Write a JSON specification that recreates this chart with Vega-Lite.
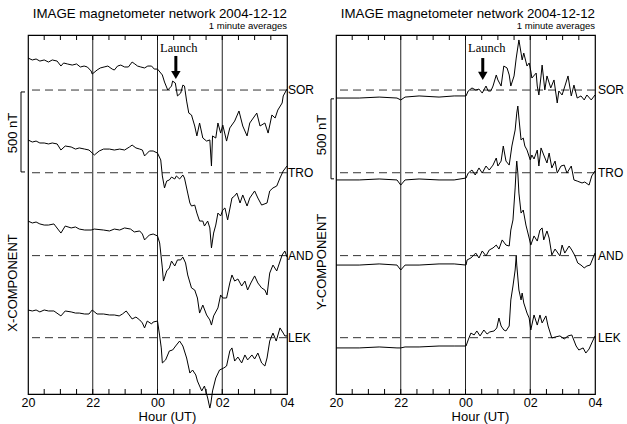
{
"$schema": "https://vega.github.io/schema/vega-lite/v6.json",
"autosize": {"type": "pad"},
"padding": {"left": 6, "top": 6, "right": 0, "bottom": 0},
"background": "white",
"spacing": 49,
"bounds": "flush",
"config": {"view": {"stroke": "black", "strokeWidth": 1.2}, "font": "Liberation Sans"},
"datasets": {
"base": [{"s":"SOR","v":1900},{"s":"TRO","v":1383},{"s":"AND","v":865},{"s":"LEK","v":352}],
"vl": [{"t":120},{"t":240},{"t":360}],
"tk": [{"t":30},{"t":60},{"t":90},{"t":120},{"t":150},{"t":180},{"t":210},{"t":240},{"t":270},{"t":300},{"t":330},{"t":360},{"t":390},{"t":420},{"t":450}],
"traces": [
{"p":"X","s":"SOR","t":0,"v":2100},{"p":"X","s":"SOR","t":8,"v":2088},{"p":"X","s":"SOR","t":15,"v":2094},{"p":"X","s":"SOR","t":22,"v":2081},{"p":"X","s":"SOR","t":30,"v":2088},{"p":"X","s":"SOR","t":38,"v":2075},{"p":"X","s":"SOR","t":45,"v":2088},{"p":"X","s":"SOR","t":54,"v":2081},{"p":"X","s":"SOR","t":61,"v":2050},{"p":"X","s":"SOR","t":66,"v":2069},{"p":"X","s":"SOR","t":73,"v":2063},{"p":"X","s":"SOR","t":82,"v":2056},{"p":"X","s":"SOR","t":90,"v":2063},{"p":"X","s":"SOR","t":97,"v":2044},{"p":"X","s":"SOR","t":104,"v":2050},{"p":"X","s":"SOR","t":110,"v":2044},{"p":"X","s":"SOR","t":117,"v":2019},{"p":"X","s":"SOR","t":119,"v":2000},{"p":"X","s":"SOR","t":128,"v":2025},{"p":"X","s":"SOR","t":134,"v":2038},{"p":"X","s":"SOR","t":141,"v":2044},{"p":"X","s":"SOR","t":148,"v":2050},{"p":"X","s":"SOR","t":156,"v":2031},{"p":"X","s":"SOR","t":160,"v":2025},{"p":"X","s":"SOR","t":166,"v":2050},{"p":"X","s":"SOR","t":172,"v":2056},{"p":"X","s":"SOR","t":179,"v":2044},{"p":"X","s":"SOR","t":186,"v":2044},{"p":"X","s":"SOR","t":193,"v":2075},{"p":"X","s":"SOR","t":198,"v":2063},{"p":"X","s":"SOR","t":203,"v":2050},{"p":"X","s":"SOR","t":209,"v":2044},{"p":"X","s":"SOR","t":216,"v":2038},{"p":"X","s":"SOR","t":222,"v":2050},{"p":"X","s":"SOR","t":229,"v":2050},{"p":"X","s":"SOR","t":234,"v":2031},{"p":"X","s":"SOR","t":240,"v":2031},{"p":"X","s":"SOR","t":249,"v":1994},{"p":"X","s":"SOR","t":253,"v":1950},{"p":"X","s":"SOR","t":259,"v":1900},{"p":"X","s":"SOR","t":266,"v":1925},{"p":"X","s":"SOR","t":268,"v":1956},{"p":"X","s":"SOR","t":273,"v":1944},{"p":"X","s":"SOR","t":277,"v":1863},{"p":"X","s":"SOR","t":283,"v":1881},{"p":"X","s":"SOR","t":287,"v":1931},{"p":"X","s":"SOR","t":290,"v":1925},{"p":"X","s":"SOR","t":294,"v":1831},{"p":"X","s":"SOR","t":298,"v":1756},{"p":"X","s":"SOR","t":303,"v":1744},{"p":"X","s":"SOR","t":309,"v":1675},{"p":"X","s":"SOR","t":313,"v":1613},{"p":"X","s":"SOR","t":318,"v":1694},{"p":"X","s":"SOR","t":324,"v":1600},{"p":"X","s":"SOR","t":331,"v":1581},{"p":"X","s":"SOR","t":337,"v":1588},{"p":"X","s":"SOR","t":340,"v":1425},{"p":"X","s":"SOR","t":342,"v":1613},{"p":"X","s":"SOR","t":348,"v":1600},{"p":"X","s":"SOR","t":352,"v":1694},{"p":"X","s":"SOR","t":357,"v":1631},{"p":"X","s":"SOR","t":361,"v":1681},{"p":"X","s":"SOR","t":368,"v":1581},{"p":"X","s":"SOR","t":374,"v":1663},{"p":"X","s":"SOR","t":383,"v":1706},{"p":"X","s":"SOR","t":391,"v":1769},{"p":"X","s":"SOR","t":398,"v":1675},{"p":"X","s":"SOR","t":406,"v":1613},{"p":"X","s":"SOR","t":411,"v":1694},{"p":"X","s":"SOR","t":424,"v":1756},{"p":"X","s":"SOR","t":430,"v":1675},{"p":"X","s":"SOR","t":439,"v":1694},{"p":"X","s":"SOR","t":445,"v":1631},{"p":"X","s":"SOR","t":452,"v":1744},{"p":"X","s":"SOR","t":458,"v":1725},{"p":"X","s":"SOR","t":463,"v":1775},{"p":"X","s":"SOR","t":471,"v":1819},{"p":"X","s":"SOR","t":473,"v":1863},{"p":"X","s":"SOR","t":480,"v":1906},
{"p":"X","s":"TRO","t":0,"v":1588},{"p":"X","s":"TRO","t":8,"v":1575},{"p":"X","s":"TRO","t":15,"v":1581},{"p":"X","s":"TRO","t":22,"v":1569},{"p":"X","s":"TRO","t":30,"v":1569},{"p":"X","s":"TRO","t":38,"v":1563},{"p":"X","s":"TRO","t":45,"v":1569},{"p":"X","s":"TRO","t":54,"v":1563},{"p":"X","s":"TRO","t":61,"v":1525},{"p":"X","s":"TRO","t":69,"v":1550},{"p":"X","s":"TRO","t":80,"v":1544},{"p":"X","s":"TRO","t":88,"v":1531},{"p":"X","s":"TRO","t":95,"v":1538},{"p":"X","s":"TRO","t":105,"v":1531},{"p":"X","s":"TRO","t":113,"v":1525},{"p":"X","s":"TRO","t":123,"v":1494},{"p":"X","s":"TRO","t":132,"v":1519},{"p":"X","s":"TRO","t":140,"v":1531},{"p":"X","s":"TRO","t":151,"v":1531},{"p":"X","s":"TRO","t":160,"v":1525},{"p":"X","s":"TRO","t":170,"v":1531},{"p":"X","s":"TRO","t":179,"v":1525},{"p":"X","s":"TRO","t":188,"v":1544},{"p":"X","s":"TRO","t":193,"v":1556},{"p":"X","s":"TRO","t":200,"v":1538},{"p":"X","s":"TRO","t":207,"v":1531},{"p":"X","s":"TRO","t":212,"v":1525},{"p":"X","s":"TRO","t":216,"v":1488},{"p":"X","s":"TRO","t":225,"v":1519},{"p":"X","s":"TRO","t":232,"v":1519},{"p":"X","s":"TRO","t":240,"v":1506},{"p":"X","s":"TRO","t":246,"v":1463},{"p":"X","s":"TRO","t":249,"v":1363},{"p":"X","s":"TRO","t":253,"v":1288},{"p":"X","s":"TRO","t":257,"v":1331},{"p":"X","s":"TRO","t":262,"v":1338},{"p":"X","s":"TRO","t":266,"v":1356},{"p":"X","s":"TRO","t":272,"v":1344},{"p":"X","s":"TRO","t":275,"v":1363},{"p":"X","s":"TRO","t":281,"v":1344},{"p":"X","s":"TRO","t":287,"v":1369},{"p":"X","s":"TRO","t":290,"v":1350},{"p":"X","s":"TRO","t":296,"v":1256},{"p":"X","s":"TRO","t":300,"v":1194},{"p":"X","s":"TRO","t":303,"v":1175},{"p":"X","s":"TRO","t":309,"v":1181},{"p":"X","s":"TRO","t":313,"v":1131},{"p":"X","s":"TRO","t":318,"v":1081},{"p":"X","s":"TRO","t":324,"v":1081},{"p":"X","s":"TRO","t":327,"v":1050},{"p":"X","s":"TRO","t":333,"v":1081},{"p":"X","s":"TRO","t":337,"v":1038},{"p":"X","s":"TRO","t":340,"v":913},{"p":"X","s":"TRO","t":344,"v":1006},{"p":"X","s":"TRO","t":348,"v":1056},{"p":"X","s":"TRO","t":352,"v":1131},{"p":"X","s":"TRO","t":357,"v":1113},{"p":"X","s":"TRO","t":361,"v":1150},{"p":"X","s":"TRO","t":365,"v":1163},{"p":"X","s":"TRO","t":370,"v":1088},{"p":"X","s":"TRO","t":378,"v":1225},{"p":"X","s":"TRO","t":383,"v":1238},{"p":"X","s":"TRO","t":387,"v":1256},{"p":"X","s":"TRO","t":393,"v":1194},{"p":"X","s":"TRO","t":398,"v":1244},{"p":"X","s":"TRO","t":406,"v":1175},{"p":"X","s":"TRO","t":411,"v":1225},{"p":"X","s":"TRO","t":420,"v":1269},{"p":"X","s":"TRO","t":426,"v":1225},{"p":"X","s":"TRO","t":433,"v":1181},{"p":"X","s":"TRO","t":443,"v":1194},{"p":"X","s":"TRO","t":448,"v":1269},{"p":"X","s":"TRO","t":454,"v":1288},{"p":"X","s":"TRO","t":461,"v":1300},{"p":"X","s":"TRO","t":467,"v":1350},{"p":"X","s":"TRO","t":473,"v":1394},{"p":"X","s":"TRO","t":480,"v":1425},
{"p":"X","s":"AND","t":0,"v":1081},{"p":"X","s":"AND","t":8,"v":1069},{"p":"X","s":"AND","t":15,"v":1075},{"p":"X","s":"AND","t":22,"v":1063},{"p":"X","s":"AND","t":30,"v":1056},{"p":"X","s":"AND","t":38,"v":1056},{"p":"X","s":"AND","t":48,"v":1063},{"p":"X","s":"AND","t":61,"v":1006},{"p":"X","s":"AND","t":69,"v":1050},{"p":"X","s":"AND","t":80,"v":1038},{"p":"X","s":"AND","t":88,"v":1044},{"p":"X","s":"AND","t":95,"v":1031},{"p":"X","s":"AND","t":105,"v":1025},{"p":"X","s":"AND","t":117,"v":1025},{"p":"X","s":"AND","t":123,"v":1031},{"p":"X","s":"AND","t":140,"v":1025},{"p":"X","s":"AND","t":151,"v":1019},{"p":"X","s":"AND","t":160,"v":1031},{"p":"X","s":"AND","t":170,"v":1025},{"p":"X","s":"AND","t":179,"v":1038},{"p":"X","s":"AND","t":190,"v":1031},{"p":"X","s":"AND","t":197,"v":1013},{"p":"X","s":"AND","t":207,"v":1019},{"p":"X","s":"AND","t":212,"v":1000},{"p":"X","s":"AND","t":216,"v":963},{"p":"X","s":"AND","t":225,"v":994},{"p":"X","s":"AND","t":232,"v":1000},{"p":"X","s":"AND","t":240,"v":988},{"p":"X","s":"AND","t":244,"v":944},{"p":"X","s":"AND","t":249,"v":788},{"p":"X","s":"AND","t":251,"v":706},{"p":"X","s":"AND","t":257,"v":769},{"p":"X","s":"AND","t":262,"v":788},{"p":"X","s":"AND","t":266,"v":831},{"p":"X","s":"AND","t":272,"v":800},{"p":"X","s":"AND","t":277,"v":838},{"p":"X","s":"AND","t":283,"v":838},{"p":"X","s":"AND","t":287,"v":856},{"p":"X","s":"AND","t":292,"v":819},{"p":"X","s":"AND","t":296,"v":744},{"p":"X","s":"AND","t":303,"v":663},{"p":"X","s":"AND","t":309,"v":650},{"p":"X","s":"AND","t":314,"v":600},{"p":"X","s":"AND","t":318,"v":506},{"p":"X","s":"AND","t":324,"v":556},{"p":"X","s":"AND","t":331,"v":494},{"p":"X","s":"AND","t":337,"v":463},{"p":"X","s":"AND","t":340,"v":431},{"p":"X","s":"AND","t":344,"v":488},{"p":"X","s":"AND","t":352,"v":538},{"p":"X","s":"AND","t":357,"v":619},{"p":"X","s":"AND","t":361,"v":600},{"p":"X","s":"AND","t":368,"v":600},{"p":"X","s":"AND","t":374,"v":694},{"p":"X","s":"AND","t":378,"v":744},{"p":"X","s":"AND","t":383,"v":706},{"p":"X","s":"AND","t":389,"v":719},{"p":"X","s":"AND","t":396,"v":675},{"p":"X","s":"AND","t":402,"v":706},{"p":"X","s":"AND","t":407,"v":650},{"p":"X","s":"AND","t":413,"v":694},{"p":"X","s":"AND","t":420,"v":738},{"p":"X","s":"AND","t":426,"v":694},{"p":"X","s":"AND","t":433,"v":663},{"p":"X","s":"AND","t":439,"v":650},{"p":"X","s":"AND","t":443,"v":619},{"p":"X","s":"AND","t":448,"v":756},{"p":"X","s":"AND","t":454,"v":806},{"p":"X","s":"AND","t":461,"v":769},{"p":"X","s":"AND","t":471,"v":869},{"p":"X","s":"AND","t":476,"v":894},{"p":"X","s":"AND","t":480,"v":856},
{"p":"X","s":"LEK","t":0,"v":525},{"p":"X","s":"LEK","t":8,"v":519},{"p":"X","s":"LEK","t":15,"v":525},{"p":"X","s":"LEK","t":22,"v":513},{"p":"X","s":"LEK","t":30,"v":525},{"p":"X","s":"LEK","t":38,"v":519},{"p":"X","s":"LEK","t":48,"v":519},{"p":"X","s":"LEK","t":61,"v":488},{"p":"X","s":"LEK","t":69,"v":519},{"p":"X","s":"LEK","t":80,"v":513},{"p":"X","s":"LEK","t":88,"v":506},{"p":"X","s":"LEK","t":95,"v":506},{"p":"X","s":"LEK","t":105,"v":500},{"p":"X","s":"LEK","t":113,"v":500},{"p":"X","s":"LEK","t":119,"v":525},{"p":"X","s":"LEK","t":128,"v":500},{"p":"X","s":"LEK","t":140,"v":500},{"p":"X","s":"LEK","t":151,"v":494},{"p":"X","s":"LEK","t":160,"v":494},{"p":"X","s":"LEK","t":169,"v":488},{"p":"X","s":"LEK","t":175,"v":500},{"p":"X","s":"LEK","t":182,"v":519},{"p":"X","s":"LEK","t":193,"v":469},{"p":"X","s":"LEK","t":200,"v":481},{"p":"X","s":"LEK","t":207,"v":463},{"p":"X","s":"LEK","t":212,"v":444},{"p":"X","s":"LEK","t":216,"v":413},{"p":"X","s":"LEK","t":221,"v":456},{"p":"X","s":"LEK","t":229,"v":438},{"p":"X","s":"LEK","t":232,"v":450},{"p":"X","s":"LEK","t":240,"v":456},{"p":"X","s":"LEK","t":244,"v":363},{"p":"X","s":"LEK","t":247,"v":288},{"p":"X","s":"LEK","t":249,"v":194},{"p":"X","s":"LEK","t":255,"v":213},{"p":"X","s":"LEK","t":262,"v":269},{"p":"X","s":"LEK","t":268,"v":275},{"p":"X","s":"LEK","t":275,"v":306},{"p":"X","s":"LEK","t":281,"v":331},{"p":"X","s":"LEK","t":287,"v":300},{"p":"X","s":"LEK","t":294,"v":225},{"p":"X","s":"LEK","t":300,"v":131},{"p":"X","s":"LEK","t":305,"v":150},{"p":"X","s":"LEK","t":311,"v":119},{"p":"X","s":"LEK","t":314,"v":81},{"p":"X","s":"LEK","t":322,"v":19},{"p":"X","s":"LEK","t":327,"v":50},{"p":"X","s":"LEK","t":333,"v":-25},{"p":"X","s":"LEK","t":337,"v":-88},{"p":"X","s":"LEK","t":339,"v":-56},{"p":"X","s":"LEK","t":342,"v":19},{"p":"X","s":"LEK","t":348,"v":100},{"p":"X","s":"LEK","t":355,"v":150},{"p":"X","s":"LEK","t":363,"v":163},{"p":"X","s":"LEK","t":368,"v":175},{"p":"X","s":"LEK","t":374,"v":269},{"p":"X","s":"LEK","t":378,"v":288},{"p":"X","s":"LEK","t":383,"v":206},{"p":"X","s":"LEK","t":389,"v":231},{"p":"X","s":"LEK","t":396,"v":194},{"p":"X","s":"LEK","t":402,"v":244},{"p":"X","s":"LEK","t":407,"v":213},{"p":"X","s":"LEK","t":415,"v":244},{"p":"X","s":"LEK","t":420,"v":219},{"p":"X","s":"LEK","t":426,"v":256},{"p":"X","s":"LEK","t":433,"v":194},{"p":"X","s":"LEK","t":439,"v":175},{"p":"X","s":"LEK","t":443,"v":225},{"p":"X","s":"LEK","t":448,"v":331},{"p":"X","s":"LEK","t":454,"v":381},{"p":"X","s":"LEK","t":460,"v":331},{"p":"X","s":"LEK","t":467,"v":413},{"p":"X","s":"LEK","t":473,"v":381},{"p":"X","s":"LEK","t":476,"v":363},{"p":"X","s":"LEK","t":480,"v":363},
{"p":"Y","s":"SOR","t":0,"v":1850},{"p":"Y","s":"SOR","t":43,"v":1850},{"p":"Y","s":"SOR","t":80,"v":1856},{"p":"Y","s":"SOR","t":113,"v":1850},{"p":"Y","s":"SOR","t":120,"v":1838},{"p":"Y","s":"SOR","t":128,"v":1856},{"p":"Y","s":"SOR","t":154,"v":1863},{"p":"Y","s":"SOR","t":191,"v":1856},{"p":"Y","s":"SOR","t":219,"v":1863},{"p":"Y","s":"SOR","t":241,"v":1863},{"p":"Y","s":"SOR","t":245,"v":1894},{"p":"Y","s":"SOR","t":252,"v":1913},{"p":"Y","s":"SOR","t":259,"v":1900},{"p":"Y","s":"SOR","t":265,"v":1906},{"p":"Y","s":"SOR","t":271,"v":1881},{"p":"Y","s":"SOR","t":278,"v":1925},{"p":"Y","s":"SOR","t":282,"v":1894},{"p":"Y","s":"SOR","t":287,"v":1894},{"p":"Y","s":"SOR","t":291,"v":1925},{"p":"Y","s":"SOR","t":297,"v":1994},{"p":"Y","s":"SOR","t":300,"v":1963},{"p":"Y","s":"SOR","t":306,"v":1925},{"p":"Y","s":"SOR","t":311,"v":2050},{"p":"Y","s":"SOR","t":317,"v":2038},{"p":"Y","s":"SOR","t":321,"v":1994},{"p":"Y","s":"SOR","t":324,"v":1925},{"p":"Y","s":"SOR","t":330,"v":1988},{"p":"Y","s":"SOR","t":334,"v":2100},{"p":"Y","s":"SOR","t":339,"v":2213},{"p":"Y","s":"SOR","t":343,"v":2131},{"p":"Y","s":"SOR","t":345,"v":2088},{"p":"Y","s":"SOR","t":348,"v":2131},{"p":"Y","s":"SOR","t":354,"v":2050},{"p":"Y","s":"SOR","t":358,"v":2069},{"p":"Y","s":"SOR","t":361,"v":2019},{"p":"Y","s":"SOR","t":363,"v":1975},{"p":"Y","s":"SOR","t":371,"v":2006},{"p":"Y","s":"SOR","t":373,"v":1925},{"p":"Y","s":"SOR","t":376,"v":1869},{"p":"Y","s":"SOR","t":380,"v":1988},{"p":"Y","s":"SOR","t":382,"v":2056},{"p":"Y","s":"SOR","t":387,"v":1900},{"p":"Y","s":"SOR","t":391,"v":1988},{"p":"Y","s":"SOR","t":398,"v":1913},{"p":"Y","s":"SOR","t":404,"v":1963},{"p":"Y","s":"SOR","t":410,"v":1819},{"p":"Y","s":"SOR","t":413,"v":1894},{"p":"Y","s":"SOR","t":419,"v":1869},{"p":"Y","s":"SOR","t":426,"v":1944},{"p":"Y","s":"SOR","t":430,"v":1988},{"p":"Y","s":"SOR","t":436,"v":1863},{"p":"Y","s":"SOR","t":441,"v":1931},{"p":"Y","s":"SOR","t":447,"v":1850},{"p":"Y","s":"SOR","t":454,"v":1863},{"p":"Y","s":"SOR","t":460,"v":1838},{"p":"Y","s":"SOR","t":465,"v":1869},{"p":"Y","s":"SOR","t":473,"v":1838},{"p":"Y","s":"SOR","t":480,"v":1869},
{"p":"Y","s":"TRO","t":0,"v":1338},{"p":"Y","s":"TRO","t":43,"v":1338},{"p":"Y","s":"TRO","t":80,"v":1344},{"p":"Y","s":"TRO","t":113,"v":1338},{"p":"Y","s":"TRO","t":120,"v":1306},{"p":"Y","s":"TRO","t":128,"v":1338},{"p":"Y","s":"TRO","t":154,"v":1344},{"p":"Y","s":"TRO","t":191,"v":1338},{"p":"Y","s":"TRO","t":219,"v":1338},{"p":"Y","s":"TRO","t":241,"v":1350},{"p":"Y","s":"TRO","t":245,"v":1381},{"p":"Y","s":"TRO","t":252,"v":1400},{"p":"Y","s":"TRO","t":258,"v":1369},{"p":"Y","s":"TRO","t":265,"v":1413},{"p":"Y","s":"TRO","t":271,"v":1381},{"p":"Y","s":"TRO","t":278,"v":1425},{"p":"Y","s":"TRO","t":284,"v":1400},{"p":"Y","s":"TRO","t":291,"v":1431},{"p":"Y","s":"TRO","t":297,"v":1475},{"p":"Y","s":"TRO","t":300,"v":1425},{"p":"Y","s":"TRO","t":306,"v":1456},{"p":"Y","s":"TRO","t":310,"v":1550},{"p":"Y","s":"TRO","t":315,"v":1456},{"p":"Y","s":"TRO","t":321,"v":1431},{"p":"Y","s":"TRO","t":326,"v":1550},{"p":"Y","s":"TRO","t":332,"v":1650},{"p":"Y","s":"TRO","t":335,"v":1756},{"p":"Y","s":"TRO","t":337,"v":1800},{"p":"Y","s":"TRO","t":339,"v":1725},{"p":"Y","s":"TRO","t":343,"v":1588},{"p":"Y","s":"TRO","t":347,"v":1600},{"p":"Y","s":"TRO","t":350,"v":1550},{"p":"Y","s":"TRO","t":354,"v":1525},{"p":"Y","s":"TRO","t":360,"v":1463},{"p":"Y","s":"TRO","t":363,"v":1494},{"p":"Y","s":"TRO","t":367,"v":1469},{"p":"Y","s":"TRO","t":373,"v":1525},{"p":"Y","s":"TRO","t":376,"v":1425},{"p":"Y","s":"TRO","t":380,"v":1538},{"p":"Y","s":"TRO","t":385,"v":1494},{"p":"Y","s":"TRO","t":391,"v":1444},{"p":"Y","s":"TRO","t":395,"v":1506},{"p":"Y","s":"TRO","t":400,"v":1413},{"p":"Y","s":"TRO","t":406,"v":1456},{"p":"Y","s":"TRO","t":410,"v":1381},{"p":"Y","s":"TRO","t":417,"v":1425},{"p":"Y","s":"TRO","t":423,"v":1431},{"p":"Y","s":"TRO","t":428,"v":1381},{"p":"Y","s":"TRO","t":436,"v":1425},{"p":"Y","s":"TRO","t":441,"v":1338},{"p":"Y","s":"TRO","t":447,"v":1331},{"p":"Y","s":"TRO","t":456,"v":1319},{"p":"Y","s":"TRO","t":461,"v":1325},{"p":"Y","s":"TRO","t":469,"v":1306},{"p":"Y","s":"TRO","t":474,"v":1363},{"p":"Y","s":"TRO","t":480,"v":1394},
{"p":"Y","s":"AND","t":0,"v":806},{"p":"Y","s":"AND","t":43,"v":806},{"p":"Y","s":"AND","t":80,"v":813},{"p":"Y","s":"AND","t":113,"v":806},{"p":"Y","s":"AND","t":120,"v":775},{"p":"Y","s":"AND","t":128,"v":806},{"p":"Y","s":"AND","t":154,"v":806},{"p":"Y","s":"AND","t":191,"v":813},{"p":"Y","s":"AND","t":219,"v":813},{"p":"Y","s":"AND","t":241,"v":806},{"p":"Y","s":"AND","t":243,"v":838},{"p":"Y","s":"AND","t":250,"v":850},{"p":"Y","s":"AND","t":259,"v":881},{"p":"Y","s":"AND","t":265,"v":850},{"p":"Y","s":"AND","t":271,"v":894},{"p":"Y","s":"AND","t":278,"v":863},{"p":"Y","s":"AND","t":284,"v":900},{"p":"Y","s":"AND","t":291,"v":913},{"p":"Y","s":"AND","t":297,"v":931},{"p":"Y","s":"AND","t":302,"v":906},{"p":"Y","s":"AND","t":308,"v":963},{"p":"Y","s":"AND","t":315,"v":931},{"p":"Y","s":"AND","t":321,"v":925},{"p":"Y","s":"AND","t":324,"v":1025},{"p":"Y","s":"AND","t":328,"v":1088},{"p":"Y","s":"AND","t":332,"v":1288},{"p":"Y","s":"AND","t":334,"v":1413},{"p":"Y","s":"AND","t":335,"v":1456},{"p":"Y","s":"AND","t":337,"v":1381},{"p":"Y","s":"AND","t":339,"v":1256},{"p":"Y","s":"AND","t":343,"v":1131},{"p":"Y","s":"AND","t":347,"v":1150},{"p":"Y","s":"AND","t":352,"v":1056},{"p":"Y","s":"AND","t":358,"v":975},{"p":"Y","s":"AND","t":361,"v":931},{"p":"Y","s":"AND","t":367,"v":988},{"p":"Y","s":"AND","t":373,"v":956},{"p":"Y","s":"AND","t":378,"v":1025},{"p":"Y","s":"AND","t":382,"v":1038},{"p":"Y","s":"AND","t":385,"v":963},{"p":"Y","s":"AND","t":391,"v":1019},{"p":"Y","s":"AND","t":395,"v":975},{"p":"Y","s":"AND","t":400,"v":869},{"p":"Y","s":"AND","t":406,"v":906},{"p":"Y","s":"AND","t":415,"v":863},{"p":"Y","s":"AND","t":419,"v":931},{"p":"Y","s":"AND","t":424,"v":881},{"p":"Y","s":"AND","t":432,"v":925},{"p":"Y","s":"AND","t":437,"v":900},{"p":"Y","s":"AND","t":443,"v":863},{"p":"Y","s":"AND","t":448,"v":819},{"p":"Y","s":"AND","t":454,"v":806},{"p":"Y","s":"AND","t":460,"v":788},{"p":"Y","s":"AND","t":465,"v":800},{"p":"Y","s":"AND","t":471,"v":806},{"p":"Y","s":"AND","t":480,"v":881},
{"p":"Y","s":"LEK","t":0,"v":288},{"p":"Y","s":"LEK","t":43,"v":288},{"p":"Y","s":"LEK","t":80,"v":294},{"p":"Y","s":"LEK","t":113,"v":288},{"p":"Y","s":"LEK","t":120,"v":288},{"p":"Y","s":"LEK","t":128,"v":294},{"p":"Y","s":"LEK","t":154,"v":294},{"p":"Y","s":"LEK","t":191,"v":300},{"p":"Y","s":"LEK","t":219,"v":300},{"p":"Y","s":"LEK","t":241,"v":300},{"p":"Y","s":"LEK","t":245,"v":338},{"p":"Y","s":"LEK","t":250,"v":381},{"p":"Y","s":"LEK","t":256,"v":369},{"p":"Y","s":"LEK","t":261,"v":394},{"p":"Y","s":"LEK","t":267,"v":363},{"p":"Y","s":"LEK","t":274,"v":400},{"p":"Y","s":"LEK","t":280,"v":375},{"p":"Y","s":"LEK","t":285,"v":388},{"p":"Y","s":"LEK","t":293,"v":394},{"p":"Y","s":"LEK","t":298,"v":413},{"p":"Y","s":"LEK","t":302,"v":475},{"p":"Y","s":"LEK","t":306,"v":425},{"p":"Y","s":"LEK","t":311,"v":400},{"p":"Y","s":"LEK","t":315,"v":394},{"p":"Y","s":"LEK","t":321,"v":425},{"p":"Y","s":"LEK","t":324,"v":588},{"p":"Y","s":"LEK","t":328,"v":675},{"p":"Y","s":"LEK","t":332,"v":775},{"p":"Y","s":"LEK","t":334,"v":863},{"p":"Y","s":"LEK","t":335,"v":806},{"p":"Y","s":"LEK","t":339,"v":650},{"p":"Y","s":"LEK","t":343,"v":588},{"p":"Y","s":"LEK","t":345,"v":631},{"p":"Y","s":"LEK","t":348,"v":569},{"p":"Y","s":"LEK","t":354,"v":506},{"p":"Y","s":"LEK","t":358,"v":475},{"p":"Y","s":"LEK","t":361,"v":400},{"p":"Y","s":"LEK","t":367,"v":494},{"p":"Y","s":"LEK","t":373,"v":431},{"p":"Y","s":"LEK","t":378,"v":494},{"p":"Y","s":"LEK","t":382,"v":444},{"p":"Y","s":"LEK","t":389,"v":488},{"p":"Y","s":"LEK","t":393,"v":425},{"p":"Y","s":"LEK","t":400,"v":350},{"p":"Y","s":"LEK","t":406,"v":356},{"p":"Y","s":"LEK","t":415,"v":363},{"p":"Y","s":"LEK","t":423,"v":344},{"p":"Y","s":"LEK","t":430,"v":363},{"p":"Y","s":"LEK","t":437,"v":369},{"p":"Y","s":"LEK","t":445,"v":300},{"p":"Y","s":"LEK","t":450,"v":275},{"p":"Y","s":"LEK","t":458,"v":288},{"p":"Y","s":"LEK","t":463,"v":256},{"p":"Y","s":"LEK","t":469,"v":281},{"p":"Y","s":"LEK","t":474,"v":319},{"p":"Y","s":"LEK","t":480,"v":363}
]
},
"hconcat": [
{
"width": 259, "height": 359,
"title": {"text": "IMAGE magnetometer network 2004-12-12", "subtitle": "1 minute averages", "anchor": "end", "frame": "group", "font": "Liberation Sans", "fontSize": 13.3, "fontWeight": "normal", "color": "black", "subtitleFont": "Liberation Sans", "subtitleFontSize": 9.5, "subtitleColor": "black", "offset": 4, "subtitlePadding": 1},
"resolve": {"axis": {"x": "independent", "y": "independent"}},
"layer": [
{"data": {"name": "vl"}, "mark": {"type": "rule", "color": "#222", "strokeWidth": 1},
 "encoding": {"x": {"field": "t", "type": "quantitative", "scale": {"domain": [0, 480], "nice": false, "zero": false}, "axis": null}}},
{"data": {"name": "tk"}, "mark": {"type": "rule", "color": "black", "strokeWidth": 1, "y2Offset": -5},
 "encoding": {"x": {"field": "t", "type": "quantitative", "axis": null}, "y": {"datum": 0, "type": "quantitative", "axis": null}, "y2": {"datum": 0}}},
{"data": {"name": "tk"}, "mark": {"type": "rule", "color": "black", "strokeWidth": 1, "y2Offset": 5},
 "encoding": {"x": {"field": "t", "type": "quantitative", "axis": null}, "y": {"datum": 2244, "type": "quantitative", "axis": null}, "y2": {"datum": 2244}}},
{"data": {"name": "base"}, "mark": {"type": "rule", "strokeDash": [8, 5], "color": "#333", "strokeWidth": 1},
 "encoding": {"y": {"field": "v", "type": "quantitative", "scale": {"domain": [0, 2244], "nice": false, "zero": false}, "axis": null}}},
{"data": {"name": "traces"}, "transform": [{"filter": "datum.p == 'X'"}],
 "mark": {"type": "line", "color": "black", "strokeWidth": 1},
 "encoding": {
  "x": {"field": "t", "type": "quantitative", "axis": {"orient": "bottom", "values": [0,120,240,360,480], "labelExpr": "['20','22','00','02','04'][datum.value / 120]", "ticks": false, "tickSize": 0, "domain": false, "grid": false, "labelFont": "Liberation Sans", "labelFontSize": 12.5, "labelColor": "black", "labelPadding": 2, "labelFlush": false, "labelOverlap": false, "title": "Hour (UT)", "titleFont": "Liberation Sans", "titleFontSize": 13, "titleFontWeight": "normal", "titleColor": "black", "titleX": 139, "titleY": 26, "titleBaseline": "alphabetic", "titleAlign": "center"}},
  "y": {"field": "v", "type": "quantitative", "axis": null},
  "detail": {"field": "s"}}},
{"data": {"name": "base"}, "mark": {"type": "text", "align": "left", "baseline": "middle", "dx": 1, "fontSize": 12, "font": "Liberation Sans", "color": "black"},
 "encoding": {"x": {"datum": 480, "type": "quantitative", "axis": null}, "y": {"field": "v", "type": "quantitative", "axis": null}, "text": {"field": "s"}}},
{"data": {"values": [{"t": 274, "a": 2113, "b": 2006}]}, "mark": {"type": "rule", "strokeWidth": 3, "color": "black"},
 "encoding": {"x": {"field": "t", "type": "quantitative", "axis": null}, "y": {"field": "a", "type": "quantitative", "axis": null}, "y2": {"field": "b"}}},
{"data": {"values": [{"t": 274, "v": 1994}]}, "mark": {"type": "point", "shape": "triangle-down", "filled": true, "color": "black", "size": 90, "opacity": 1},
 "encoding": {"x": {"field": "t", "type": "quantitative", "axis": null}, "y": {"field": "v", "type": "quantitative", "axis": null}}},
{"data": {"values": [{"t": 274, "v": 2138, "label": "Launch"}]}, "mark": {"type": "text", "font": "Liberation Serif", "fontSize": 12.5, "align": "center", "baseline": "alphabetic", "dx": 3, "color": "black"},
 "encoding": {"x": {"field": "t", "type": "quantitative", "axis": null}, "y": {"field": "v", "type": "quantitative", "axis": null}, "text": {"field": "label"}}},
{"data": {"values": [{"a": 1888, "b": 1388}]}, "mark": {"type": "rule", "color": "black", "strokeWidth": 1, "xOffset": -7},
 "encoding": {"x": {"datum": 0, "type": "quantitative", "axis": null}, "y": {"field": "a", "type": "quantitative", "axis": null}, "y2": {"field": "b"}}},
{"data": {"values": [{"v": 1888}, {"v": 1388}]}, "mark": {"type": "rule", "color": "black", "strokeWidth": 1, "xOffset": -7, "x2Offset": -3},
 "encoding": {"x": {"datum": 0, "type": "quantitative", "axis": null}, "x2": {"datum": 0}, "y": {"field": "v", "type": "quantitative", "axis": null}}},
{"data": {"values": [{"v": 1631, "label": "500 nT"}, {"v": 694, "label": "X-COMPONENT"}]}, "mark": {"type": "text", "angle": 270, "align": "center", "baseline": "middle", "dy": -15, "fontSize": 13, "font": "Liberation Sans", "color": "black"},
 "encoding": {"x": {"datum": 0, "type": "quantitative", "axis": null}, "y": {"field": "v", "type": "quantitative", "axis": null}, "text": {"field": "label"}}}
]
},
{
"width": 259, "height": 359,
"title": {"text": "IMAGE magnetometer network 2004-12-12", "subtitle": "1 minute averages", "anchor": "end", "frame": "group", "font": "Liberation Sans", "fontSize": 13.3, "fontWeight": "normal", "color": "black", "subtitleFont": "Liberation Sans", "subtitleFontSize": 9.5, "subtitleColor": "black", "offset": 4, "subtitlePadding": 1},
"resolve": {"axis": {"x": "independent", "y": "independent"}},
"layer": [
{"data": {"name": "vl"}, "mark": {"type": "rule", "color": "#222", "strokeWidth": 1},
 "encoding": {"x": {"field": "t", "type": "quantitative", "scale": {"domain": [0, 480], "nice": false, "zero": false}, "axis": null}}},
{"data": {"name": "tk"}, "mark": {"type": "rule", "color": "black", "strokeWidth": 1, "y2Offset": -5},
 "encoding": {"x": {"field": "t", "type": "quantitative", "axis": null}, "y": {"datum": 0, "type": "quantitative", "axis": null}, "y2": {"datum": 0}}},
{"data": {"name": "tk"}, "mark": {"type": "rule", "color": "black", "strokeWidth": 1, "y2Offset": 5},
 "encoding": {"x": {"field": "t", "type": "quantitative", "axis": null}, "y": {"datum": 2244, "type": "quantitative", "axis": null}, "y2": {"datum": 2244}}},
{"data": {"name": "base"}, "mark": {"type": "rule", "strokeDash": [8, 5], "color": "#333", "strokeWidth": 1},
 "encoding": {"y": {"field": "v", "type": "quantitative", "scale": {"domain": [0, 2244], "nice": false, "zero": false}, "axis": null}}},
{"data": {"name": "traces"}, "transform": [{"filter": "datum.p == 'Y'"}],
 "mark": {"type": "line", "color": "black", "strokeWidth": 1},
 "encoding": {
  "x": {"field": "t", "type": "quantitative", "axis": {"orient": "bottom", "values": [0,120,240,360,480], "labelExpr": "['20','22','00','02','04'][datum.value / 120]", "ticks": false, "tickSize": 0, "domain": false, "grid": false, "labelFont": "Liberation Sans", "labelFontSize": 12.5, "labelColor": "black", "labelPadding": 2, "labelFlush": false, "labelOverlap": false, "title": "Hour (UT)", "titleFont": "Liberation Sans", "titleFontSize": 13, "titleFontWeight": "normal", "titleColor": "black", "titleX": 144, "titleY": 26, "titleBaseline": "alphabetic", "titleAlign": "center"}},
  "y": {"field": "v", "type": "quantitative", "axis": null},
  "detail": {"field": "s"}}},
{"data": {"name": "base"}, "mark": {"type": "text", "align": "left", "baseline": "middle", "dx": 3, "fontSize": 12, "font": "Liberation Sans", "color": "black"},
 "encoding": {"x": {"datum": 480, "type": "quantitative", "axis": null}, "y": {"field": "v", "type": "quantitative", "axis": null}, "text": {"field": "s"}}},
{"data": {"values": [{"t": 272, "a": 2100, "b": 2000}]}, "mark": {"type": "rule", "strokeWidth": 3, "color": "black"},
 "encoding": {"x": {"field": "t", "type": "quantitative", "axis": null}, "y": {"field": "a", "type": "quantitative", "axis": null}, "y2": {"field": "b"}}},
{"data": {"values": [{"t": 272, "v": 1988}]}, "mark": {"type": "point", "shape": "triangle-down", "filled": true, "color": "black", "size": 90, "opacity": 1},
 "encoding": {"x": {"field": "t", "type": "quantitative", "axis": null}, "y": {"field": "v", "type": "quantitative", "axis": null}}},
{"data": {"values": [{"t": 272, "v": 2138, "label": "Launch"}]}, "mark": {"type": "text", "font": "Liberation Serif", "fontSize": 12.5, "align": "center", "baseline": "alphabetic", "dx": 4, "color": "black"},
 "encoding": {"x": {"field": "t", "type": "quantitative", "axis": null}, "y": {"field": "v", "type": "quantitative", "axis": null}, "text": {"field": "label"}}},
{"data": {"values": [{"a": 1845, "b": 1345}]}, "mark": {"type": "rule", "color": "black", "strokeWidth": 1, "xOffset": -5},
 "encoding": {"x": {"datum": 0, "type": "quantitative", "axis": null}, "y": {"field": "a", "type": "quantitative", "axis": null}, "y2": {"field": "b"}}},
{"data": {"values": [{"v": 1845}, {"v": 1345}]}, "mark": {"type": "rule", "color": "black", "strokeWidth": 1, "xOffset": -5, "x2Offset": -2},
 "encoding": {"x": {"datum": 0, "type": "quantitative", "axis": null}, "x2": {"datum": 0}, "y": {"field": "v", "type": "quantitative", "axis": null}}},
{"data": {"values": [{"v": 1619, "label": "500 nT"}, {"v": 826, "label": "Y-COMPONENT"}]}, "mark": {"type": "text", "angle": 270, "align": "center", "baseline": "middle", "dy": -14, "fontSize": 13, "font": "Liberation Sans", "color": "black"},
 "encoding": {"x": {"datum": 0, "type": "quantitative", "axis": null}, "y": {"field": "v", "type": "quantitative", "axis": null}, "text": {"field": "label"}}}
]
}
]
}
